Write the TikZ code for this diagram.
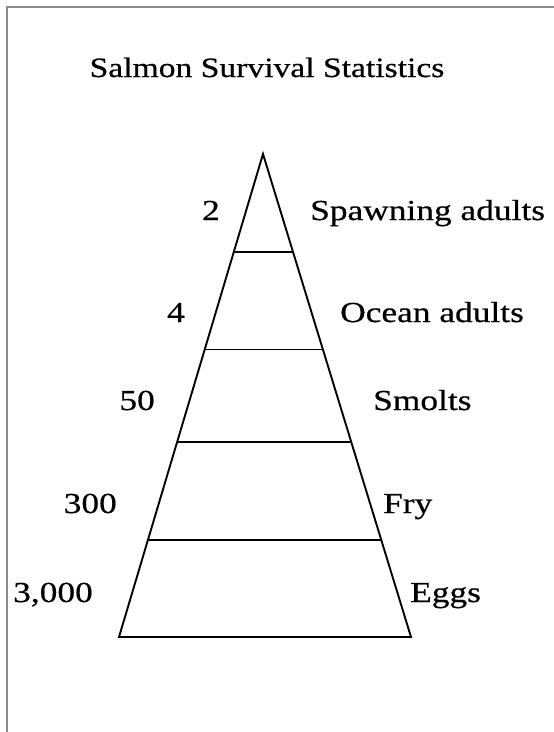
\documentclass[tikz,border=0pt]{standalone}
\usepackage{fontspec}
\setmainfont{Liberation Serif}[FakeStretch=1.2, FakeBold=0.6]
\newfontfamily\lblfont{Liberation Serif}[FakeStretch=1.22, FakeBold=0.6]
\usetikzlibrary{calc}
\tikzset{
  frameline/.style={draw=black!45, line width=1.4pt},
  pyramid/.style={draw=black, line width=1.9pt, line join=miter},
  divider/.style={draw=black, line width=1.3pt},
  lbl/.style={font=\lblfont\fontsize{29}{32}\selectfont, inner sep=0pt},
  ttl/.style={font=\fontsize{28}{32}\selectfont, inner sep=0pt}
}
\begin{document}
\begin{tikzpicture}[x=1pt,y=-1pt]
\useasboundingbox (0,0) rectangle (554,732);
% frame (only top and left edges visible)
\coordinate (fbl) at (7,732);
\coordinate (ftl) at (7,7);
\coordinate (ftr) at (554,7);
\draw[frameline] (fbl) -- (ftl) -- (ftr);
% title
\node[ttl, anchor=base] (title) at (267,77) {Salmon Survival Statistics};
% pyramid
\coordinate (apex) at (263,154);
\coordinate (bl) at (119,637);
\coordinate (br) at (411,637);
\draw[pyramid] (apex) -- (br) -- (bl) -- cycle;
\foreach \t/\n in {0.2029/a, 0.4048/b, 0.5963/c, 0.7992/d}{
  \coordinate (l\n) at ($(apex)!\t!(bl)$);
  \coordinate (r\n) at ($(apex)!\t!(br)$);
  \draw[divider] (l\n) -- (r\n);
}
% numbers
\node[lbl, anchor=base east] (n1) at (220,220) {2};
\node[lbl, anchor=base east] (n2) at (185,322) {4};
\node[lbl, anchor=base east] (n3) at (155,410) {50};
\node[lbl, anchor=base east] (n4) at (117,513) {300};
\node[lbl, anchor=base east] (n5) at (93,602) {3,000};
% stage names
\node[lbl, anchor=base west] (s1) at (310,220) {Spawning adults};
\node[lbl, anchor=base west] (s2) at (340,322) {Ocean adults};
\node[lbl, anchor=base west] (s3) at (373,410) {Smolts};
\node[lbl, anchor=base west] (s4) at (383,513) {Fry};
\node[lbl, anchor=base west] (s5) at (410,602) {Eggs};
\end{tikzpicture}
\end{document}
